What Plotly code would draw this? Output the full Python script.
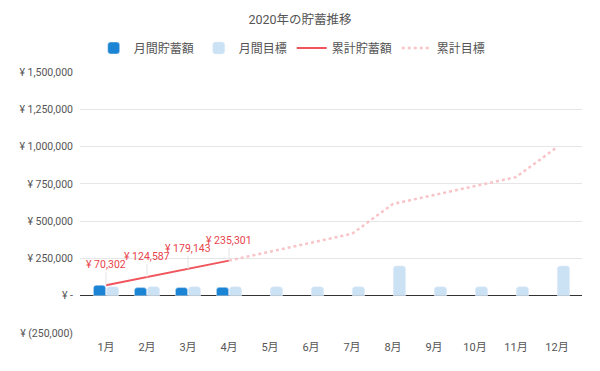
import plotly.graph_objects as go

months = ["1月", "2月", "3月", "4月", "5月", "6月", "7月", "8月", "9月", "10月", "11月", "12月"]
monthly_savings = [70302, 54285, 54556, 56158, None, None, None, None, None, None, None, None]
monthly_target = [60000, 60000, 60000, 60000, 60000, 60000, 60000, 200000, 60000, 60000, 60000, 200000]
cum_savings = [70302, 124587, 179143, 235301, None, None, None, None, None, None, None, None]
cum_target = [None, None, None, 235301, 295301, 355301, 415301, 615301, 675301, 735301, 795301, 995301]

tick_vals = [-250000, 0, 250000, 500000, 750000, 1000000, 1250000, 1500000]
tick_text = ["¥ (250,000)", "¥ -", "¥ 250,000", "¥ 500,000", "¥ 750,000", "¥ 1,000,000", "¥ 1,250,000", "¥ 1,500,000"]

FONT = "Roboto, 'Noto Sans CJK JP', sans-serif"

fig = go.Figure()
fig.add_trace(go.Bar(x=months, y=monthly_savings, name="月間貯蓄額",
                     marker=dict(color="#1c84d4", cornerradius=3)))
fig.add_trace(go.Bar(x=months, y=monthly_target, name="月間目標",
                     marker=dict(color="#cbe2f5", cornerradius=3)))
fig.add_trace(go.Scatter(x=months, y=cum_savings, name="累計貯蓄額", mode="lines",
                         line=dict(color="#f0545c", width=2)))
fig.add_trace(go.Scatter(x=months, y=cum_target, name="累計目標", mode="lines",
                         line=dict(color="#f8c4c7", width=2.5, dash="dot")))

for m, v in zip(months, cum_savings):
    if v is None:
        continue
    fig.add_annotation(x=m, y=v, text=f"¥ {v:,}", showarrow=True, arrowhead=0,
                       arrowcolor="#e4e4e4", arrowwidth=1, ax=0, ay=-13,
                       font=dict(color="#e8434b", size=10.5, family=FONT),
                       yanchor="bottom", standoff=0, borderpad=0)

fig.update_layout(
    width=600, height=371,
    paper_bgcolor="white", plot_bgcolor="white",
    font=dict(family=FONT, color="#555555", size=11),
    title=dict(text="2020年の貯蓄推移", x=0.5, xref="container", xanchor="center",
               y=1 - 20 / 371, yref="container", yanchor="middle",
               font=dict(size=12.5, color="#555555", family=FONT)),
    margin=dict(l=80, r=18, t=72, b=38, autoexpand=False),
    barmode="group", bargap=0.37, bargroupgap=0.05,
    showlegend=True,
    legend=dict(orientation="h", x=0.487, xref="container", xanchor="center",
                y=1 - 48 / 371, yref="container", yanchor="middle",
                font=dict(size=12, color="#555555", family=FONT), itemwidth=30,
                traceorder="normal"),
    xaxis=dict(showgrid=False, showline=False, ticks="", range=[-0.634, 11.61],
               tickfont=dict(size=11, color="#555555"), ticklabelstandoff=6),
    yaxis=dict(range=[-250000, 1500000], tickvals=tick_vals, ticktext=tick_text,
               showgrid=True, gridcolor="#e6e6e6", gridwidth=1,
               zeroline=True, zerolinecolor="#333333", zerolinewidth=1.3,
               tickfont=dict(size=10.5, color="#555555"), ticks="",
               ticklabelstandoff=6),
)

fig.write_html("out.html", config={"displayModeBar": False},
               post_script="document.body.style.margin='0';document.body.style.overflow='hidden';")
